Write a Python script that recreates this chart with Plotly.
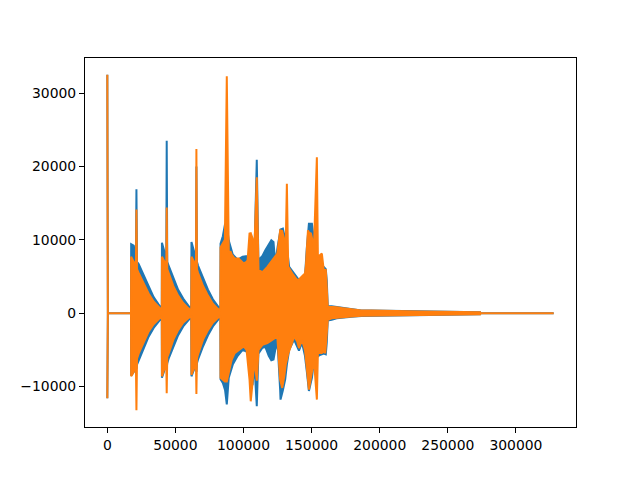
import plotly.graph_objects as go

# ---- channel 0 (blue) envelope: sample index, upper peak, lower peak ----
BLUE_X = [0, 400, 17400, 17500, 19400, 21000, 21370, 21800, 23000, 26700, 30300, 34000, 37600, 40000,
          40100, 41500, 43300, 43600, 44000, 45000, 48500, 52000, 55700, 59400, 61600,
          61770, 63000, 65100, 65400, 65800, 66600, 70300, 73900, 77500, 81200, 83000,
          83130, 84800, 86480, 87710, 89160, 92070, 95700, 99340, 103000, 105150, 106600, 108000,
          109730, 110900, 113870, 116000, 118500, 120400, 122000, 123300, 125000, 126900, 127170,
          128900, 130600, 131820, 133500, 137100, 140700, 142900, 145100, 146500, 148000, 150200,
          152400, 153840, 156000, 158900, 160400, 161100, 161830, 164700, 168400, 172000, 179300,
          186500, 193800, 204700, 230000, 260000, 273700, 274000, 327700]
BLUE_HI = [32500, 0, 0, 9400, 9200, 7600, 16900, 7000, 6700, 5200, 3500, 2200, 1200, 600,
           9600, 8500, 7500, 23500, 7000, 6500, 4800, 3200, 2000, 1000, 500,
           9700, 8800, 7500, 20000, 7000, 6500, 4800, 3200, 1900, 900, 500,
           9500, 10500, 12200, 12000, 9900, 8000, 7300, 7700, 7800, 8200, 8500, 8000,
           20900, 7230, 7800, 8590, 9300, 9950, 9700, 6800, 9000, 11300, 11400,
           11530, 10000, 9000, 6320, 5430, 4520, 4600, 4970, 9000, 12210, 12210,
           9040, 8000, 6830, 6320, 6000, 4520, 1000, 950, 850, 720, 560,
           380, 370, 330, 250, 180, 150, 0, 0]
BLUE_LO = [-11600, 0, 0, -8500, -8000, -7200, -7600, -7000, -6700, -4800, -3200, -2000, -1100, -600,
           -8800, -8000, -7000, -7500, -6800, -6200, -4500, -3000, -1800, -1000, -500,
           -8600, -8000, -7000, -8000, -6800, -6300, -4500, -3000, -1800, -900, -500,
           -9000, -9500, -10500, -12440, -8800, -7000, -5800, -5000, -5300, -9400, -9800, -7000,
           -12670, -5500, -4700, -4600, -5800, -6400, -6300, -5000, -4000, -10500, -11770,
           -10500, -9000, -7000, -5000, -3600, -5100, -4000, -5800, -8000, -10600, -8800,
           -5390, -6000, -5700, -5500, -5600, -4000, -1000, -900, -700, -600, -480,
           -380, -330, -300, -250, -180, -150, 0, 0]

# ---- channel 1 (orange) envelope ----
ORANGE_X = [0, 400, 17400, 17500, 19400, 21000, 21370, 21800, 23000, 26700, 30300, 34000, 37600, 40000,
            40100, 41500, 43300, 43600, 44000, 45000, 48500, 52000, 55700, 59400, 61600,
            61770, 63000, 65100, 65400, 65800, 66600, 70300, 73900, 77500, 81200, 83000,
            83130, 86300, 87710, 89160, 90600, 91300, 93500, 96400, 100100, 102200, 103000, 104400,
            105300, 106600, 108000, 109730, 111000, 113900, 117500, 121100, 124800, 126900, 128400,
            129900, 131000, 131820, 132800, 135700, 137100, 139300, 140700, 142900, 145100, 145800,
            147300, 148000, 149500, 151700, 153840, 154600, 157500, 158900, 160000, 160400, 161830,
            164700, 168400, 172000, 179300, 186500, 193800, 204700, 230000, 260000, 273700, 274000, 327700]
ORANGE_HI = [32500, 0, 0, 7700, 7000, 6500, 14150, 6000, 5500, 4000, 2700, 1600, 900, 400,
             7700, 7200, 6500, 14400, 6000, 5500, 3700, 2400, 1400, 700, 350,
             7700, 7200, 6500, 22400, 6000, 5500, 3700, 2400, 1300, 600, 300,
             9000, 10000, 32300, 8400, 8360, 8000, 7460, 7460, 6780, 7000, 7230, 10860,
             10900, 10200, 9000, 18540, 5880, 5600, 6320, 7230, 8140, 11300, 11200,
             10000, 9500, 17640, 6320, 5430, 5000, 4520, 4600, 4970, 5430, 6500,
             11300, 11000, 10860, 9040, 21260, 7680, 8140, 5880, 5880, 5880, 900,
             900, 810, 700, 540, 360, 360, 300, 230, 170, 150, 0, 0]
ORANGE_LO = [-11600, 0, 0, -8600, -8000, -7000, -13220, -6200, -5500, -3900, -2500, -1500, -800, -400,
             -8600, -7800, -7000, -10900, -6000, -5500, -3600, -2300, -1300, -700, -350,
             -8400, -7800, -7000, -11000, -6200, -5600, -3600, -2300, -1300, -600, -300,
             -8800, -9300, -9300, -8140, -7000, -6340, -5430, -4980, -4530, -4980, -6000, -9050,
             -12000, -9500, -6340, -9200, -4980, -4300, -4070, -3620, -3170, -9050, -10180,
             -8600, -7000, -6340, -5500, -4000, -3170, -3800, -4750, -3620, -5000, -5430,
             -9000, -10410, -8600, -6340, -11770, -5430, -5430, -5200, -5430, -5000, -900,
             -680, -600, -540, -450, -360, -300, -300, -230, -170, -150, 0, 0]

X_TICKS = [0, 50000, 100000, 150000, 200000, 250000, 300000]
X_TICK_TEXT = ["0", "50000", "100000", "150000", "200000", "250000", "300000"]
Y_TICKS = [-10000, 0, 10000, 20000, 30000]
Y_TICK_TEXT = ["\u221210000", "0", "10000", "20000", "30000"]

BLUE = "#1f77b4"
ORANGE = "#ff7f0e"

fig = go.Figure()
for xs, hi, lo, col in [(BLUE_X, BLUE_HI, BLUE_LO, BLUE), (ORANGE_X, ORANGE_HI, ORANGE_LO, ORANGE)]:
    fig.add_trace(go.Scatter(
        x=list(xs) + list(xs[::-1]),
        y=list(hi) + list(lo[::-1]),
        mode="lines", fill="toself", fillcolor=col,
        line=dict(color=col, width=2),
        hoverinfo="skip", showlegend=False))

all_x = BLUE_X + ORANGE_X
all_y = BLUE_HI + BLUE_LO + ORANGE_HI + ORANGE_LO
x0, x1 = min(all_x), max(all_x)
y0, y1 = min(all_y), max(all_y)
mx = 0.05 * (x1 - x0)
my = 0.05 * (y1 - y0)

font = dict(family="DejaVu Sans", size=13.9, color="black")
axis_common = dict(showgrid=False, zeroline=False, showline=True, mirror=True,
                   linecolor="black", linewidth=1.1, ticks="outside", ticklen=5,
                   tickwidth=1.1, tickcolor="black", tickfont=font)

# the page body adds an 8px offset, so margins are shifted to keep the plot area in place
fig.update_layout(
    width=640, height=480,
    margin=dict(l=72, r=72, t=50, b=61),
    paper_bgcolor="white", plot_bgcolor="white",
    xaxis=dict(range=[x0 - mx, x1 + mx], tickvals=X_TICKS, ticktext=X_TICK_TEXT, **axis_common),
    yaxis=dict(range=[y0 - my, y1 + my], tickvals=Y_TICKS, ticktext=Y_TICK_TEXT, **axis_common),
)

fig.write_html("out.html")
